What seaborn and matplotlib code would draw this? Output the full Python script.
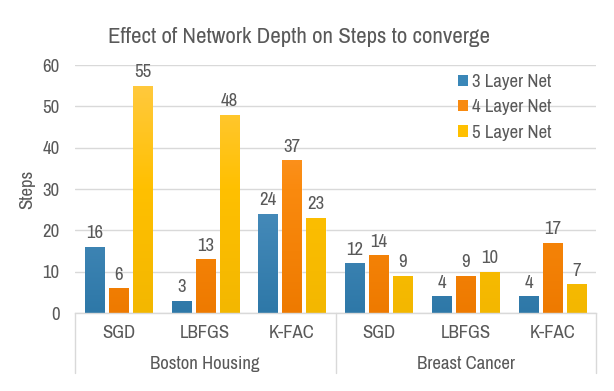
import numpy as np
import pandas as pd
import matplotlib
matplotlib.use("Agg")
import matplotlib.pyplot as plt
import matplotlib.transforms as mtransforms
from matplotlib.colors import LinearSegmentedColormap
from matplotlib.patches import Patch
import seaborn as sns

datasets = ["Boston Housing", "Boston Housing", "Boston Housing",
            "Breast Cancer", "Breast Cancer", "Breast Cancer"]
optimizers = ["SGD", "LBFGS", "K-FAC", "SGD", "LBFGS", "K-FAC"]
series_names = ["3 Layer Net", "4 Layer Net", "5 Layer Net"]
layer3 = [16, 3, 24, 12, 4, 4]
layer4 = [6, 13, 37, 14, 9, 17]
layer5 = [55, 48, 23, 9, 10, 7]
yticks = [0, 10, 20, 30, 40, 50, 60]

title = "Effect of Network Depth on Steps to converge"
ylabel = "Steps"

keys = [f"{d}|{o}" for d, o in zip(datasets, optimizers)]
rows = []
for name, vals in zip(series_names, [layer3, layer4, layer5]):
    for k, v in zip(keys, vals):
        rows.append({"key": k, "series": name, "value": v})
df = pd.DataFrame(rows)

sns.set_style("white")
FONT = ["Archivo Narrow", "DejaVu Sans"]
plt.rcParams["font.family"] = FONT
TXT = "#595959"
FS = 13.5

solid = ["#3A87B8", "#F88A10", "#FFC000"]
grads = [
    ["#2E78A8", "#4A8EBD", "#5E9DC8"],
    ["#EE7A00", "#FA8A0E", "#FFA444"],
    ["#F3B700", "#FFC000", "#FFCB4A"],
]

fig = plt.figure(figsize=(6.14, 3.91), dpi=100)
ax = fig.add_axes([75 / 614, 1 - 313 / 391, (596 - 75) / 614, (313 - 65) / 391])

sns.barplot(data=df, x="key", y="value", hue="series", order=keys,
            hue_order=series_names, palette=solid, width=0.83, gap=0.2,
            ax=ax, legend=False, errorbar=None, saturation=1)

ax.set_ylim(0, 60)
ax.set_xlim(-0.5, 5.5)
ax.set_yticks(yticks)
ax.set_yticklabels([str(t) for t in yticks], color=TXT, fontsize=FS)
ax.tick_params(axis="y", length=0, pad=11)
ax.tick_params(axis="x", length=0, labelbottom=False)
ax.yaxis.grid(True, color="#D9D9D9", linewidth=1)
ax.set_axisbelow(True)
for s in ["top", "right", "left"]:
    ax.spines[s].set_visible(False)
ax.spines["bottom"].set_color("#D9D9D9")
ax.spines["bottom"].set_linewidth(1)
ax.set_xlabel("")
ax.set_ylabel(ylabel, color=TXT, fontsize=FS, fontweight="bold", labelpad=5)

# gradient fill
for ci, cont in enumerate(ax.containers):
    cmap = LinearSegmentedColormap.from_list(f"g{ci}", grads[ci])
    for patch in cont.patches:
        x0, y0 = patch.get_x(), patch.get_y()
        w, h = patch.get_width(), patch.get_height()
        grad = np.linspace(0, 1, 256).reshape(-1, 1)
        im = ax.imshow(grad, cmap=cmap, origin="lower", aspect="auto",
                       extent=[x0, x0 + w, y0, y0 + 60], zorder=2)
        im.set_clip_path(patch)
        patch.set_facecolor("none")
        patch.set_edgecolor((1, 1, 1, 0.5))
        patch.set_linewidth(0.6)
    ax.bar_label(cont, labels=[str(int(p.get_height())) for p in cont.patches],
                 padding=4, color=TXT, fontsize=FS)
ax.set_xlim(-0.5, 5.5)
ax.set_ylim(0, 60)

# multi-level category axis
H = 313 - 65
trans = mtransforms.blended_transform_factory(ax.transData, ax.transAxes)
for i, o in enumerate(optimizers):
    ax.text(i, -20 / H, o, transform=trans, ha="center", va="center",
            color=TXT, fontsize=FS)
groups = []
for d in datasets:
    if d not in groups:
        groups.append(d)
for gi, g in enumerate(groups):
    idx = [i for i, d in enumerate(datasets) if d == g]
    ax.text(np.mean(idx), -51 / H, g, transform=trans, ha="center",
            va="center", color=TXT, fontsize=FS)
for xb in [-0.5, 2.5, 5.5]:
    ax.plot([xb, xb], [0, -60 / H], transform=trans, color="#D9D9D9",
            linewidth=1, clip_on=False)

handles = [Patch(facecolor=c, edgecolor="none") for c in solid]
leg = fig.legend(handles, series_names, loc="upper left",
                 bbox_to_anchor=(441 / 614, 1 - 57 / 391), frameon=False,
                 handlelength=0.55, handleheight=0.55, handletextpad=0.2,
                 labelspacing=0.5, fontsize=FS, labelcolor=TXT)

fig.text(299 / 614, 1 - 37 / 391, title, ha="center", va="center",
         color=TXT, fontsize=16.5)

fig.savefig("out.png", dpi=100)
